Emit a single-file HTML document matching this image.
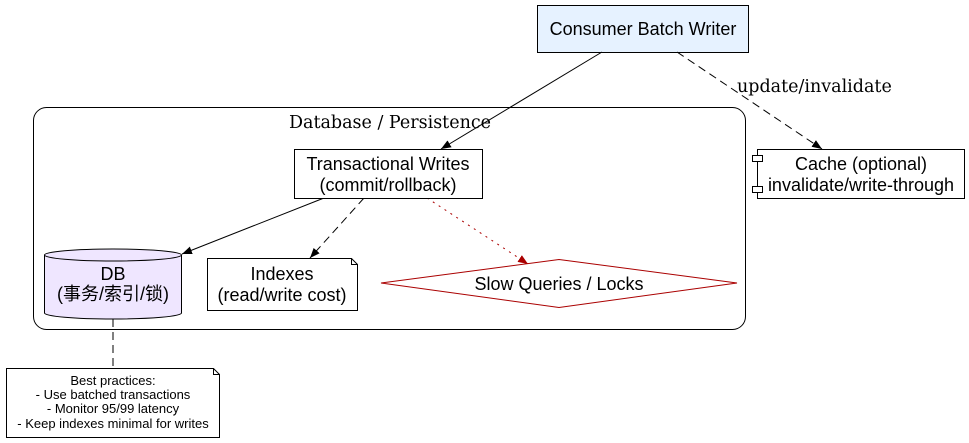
<!DOCTYPE html>
<html><head><meta charset="utf-8"><style>
html,body{margin:0;padding:0;background:#fff}
svg{display:block}
.s{font-family:"Liberation Sans","Noto Sans CJK SC",sans-serif;font-size:18px;fill:#000}
.r{font-family:"DejaVu Serif","Liberation Serif",serif;font-size:17.5px;fill:#000}
</style></head><body>
<svg width="969" height="443" viewBox="0 0 969 443" xmlns="http://www.w3.org/2000/svg">
<defs>
<marker id="a" viewBox="0 0 10 10" refX="10" refY="5" markerWidth="10" markerHeight="10" markerUnits="userSpaceOnUse" orient="auto"><path d="M0,1 L10,5 L0,9 z" fill="#000"/></marker>
<marker id="ar" viewBox="0 0 10 10" refX="10" refY="5" markerWidth="10" markerHeight="10" markerUnits="userSpaceOnUse" orient="auto"><path d="M0,1 L10,5 L0,9 z" fill="#a00"/></marker>
</defs>
<rect x="33.5" y="107.5" width="712" height="222" rx="13" fill="none" stroke="#000"/>
<text x="390" y="128" text-anchor="middle" class="r">Database / Persistence</text>
<rect x="537.5" y="5.5" width="211" height="47" fill="#e6f2ff" stroke="#000"/>
<text x="643" y="35" text-anchor="middle" class="s">Consumer Batch Writer</text>
<line x1="602" y1="52" x2="441" y2="149" stroke="#000" marker-end="url(#a)"/>
<line x1="677" y1="52" x2="822" y2="149" stroke="#000" stroke-dasharray="8,5" marker-end="url(#a)"/>
<text x="737" y="92" class="r">update/invalidate</text>
<line x1="324" y1="198" x2="182" y2="254" stroke="#000" marker-end="url(#a)"/>
<line x1="364" y1="198" x2="310" y2="258" stroke="#000" stroke-dasharray="8,5" marker-end="url(#a)"/>
<line x1="427" y1="198" x2="528" y2="264" stroke="#a00" stroke-dasharray="2,5" marker-end="url(#ar)"/>
<line x1="113" y1="319" x2="113" y2="368" stroke="#000" stroke-dasharray="8,5"/>
<rect x="294.5" y="149.5" width="188" height="49" fill="#fff" stroke="#000"/>
<text x="388" y="170" text-anchor="middle" class="s">Transactional Writes</text>
<text x="388" y="191" text-anchor="middle" class="s">(commit/rollback)</text>
<path d="M44.5,255 L44.5,313 A68.5,6 0 0 0 181.5,313 L181.5,255 A68.5,6 0 0 0 44.5,255 Z" fill="#efe6ff" stroke="#000"/>
<path d="M44.5,255 A68.5,6 0 0 0 181.5,255" fill="none" stroke="#000"/>
<text x="113" y="280" text-anchor="middle" class="s">DB</text>
<text x="113" y="300" text-anchor="middle" class="s">(事务/索引/锁)</text>
<path d="M207.5,258.5 L351.5,258.5 L357.5,264.5 L357.5,310.5 L207.5,310.5 Z M351.5,258.5 L351.5,264.5 L357.5,264.5" fill="#fff" stroke="#000"/>
<text x="282" y="280" text-anchor="middle" class="s">Indexes</text>
<text x="282" y="301" text-anchor="middle" class="s">(read/write cost)</text>
<polygon points="559,259.5 737,283 559,307.5 381,283" fill="#fff" stroke="#a00"/>
<text x="559" y="290" text-anchor="middle" class="s">Slow Queries / Locks</text>
<rect x="757.5" y="149.5" width="207" height="49" fill="#fff" stroke="#000"/>
<rect x="752.5" y="155.5" width="10" height="6" fill="#fff" stroke="#000"/>
<rect x="752.5" y="186.5" width="10" height="6" fill="#fff" stroke="#000"/>
<text x="861" y="170" text-anchor="middle" class="s">Cache (optional)</text>
<text x="861" y="191" text-anchor="middle" class="s">invalidate/write-through</text>
<path d="M6.5,368.5 L213.5,368.5 L219.5,374.5 L219.5,437.5 L6.5,437.5 Z M213.5,368.5 L213.5,374.5 L219.5,374.5" fill="#fff" stroke="#000"/>
<g class="s" style="font-size:13px" text-anchor="middle">
<text x="113" y="385">Best practices:</text>
<text x="113" y="399">- Use batched transactions</text>
<text x="113" y="413">- Monitor 95/99 latency</text>
<text x="113" y="428">- Keep indexes minimal for writes</text>
</g>
</svg>
</body></html>
